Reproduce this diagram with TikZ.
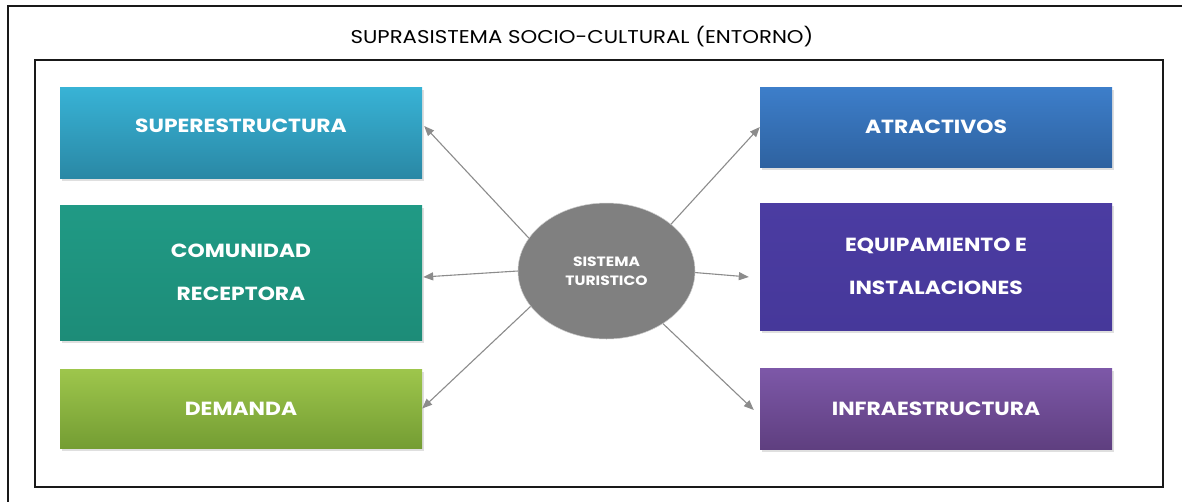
\documentclass[tikz,border=0pt]{standalone}
\usepackage{fontspec}
\setmainfont{Poppins}[FakeStretch=1.15]
\usetikzlibrary{arrows.meta,shapes.geometric,shadows,calc}
\definecolor{supT}{HTML}{38B3D6}
\definecolor{supB}{HTML}{2A88A5}
\definecolor{comT}{HTML}{209A85}
\definecolor{comB}{HTML}{1D8C78}
\definecolor{demT}{HTML}{9EC64C}
\definecolor{demB}{HTML}{749D33}
\definecolor{atrT}{HTML}{3D7ECA}
\definecolor{atrB}{HTML}{2E62A0}
\definecolor{equT}{HTML}{4B3CA2}
\definecolor{equB}{HTML}{46389A}
\definecolor{infT}{HTML}{7D58A8}
\definecolor{infB}{HTML}{5F3F80}
\definecolor{sisgray}{HTML}{808080}
\definecolor{arrowgray}{HTML}{8C8C8C}
\begin{document}
\begin{tikzpicture}[x=1pt,y=-1pt,
  box/.style={rectangle, inner sep=0pt, text=white,
    font=\fontsize{19}{43}\selectfont\bfseries, align=center,
    drop shadow={opacity=0.25, shadow xshift=1.5pt, shadow yshift=-2.5pt}},
  conn/.style={draw=arrowgray, line width=1.1pt, -{Triangle[length=10pt,width=8pt]}}]
\useasboundingbox (0,0) rectangle (1182,501);
\fill[white] (0,0) rectangle (1182,501);
% outer frame (only top and left visible)
\draw[line width=1.6pt, black!90] (8,515) -- (8,6) -- (1195,6);
\node[font=\fontsize{18.5}{22}\selectfont, text=black] (title) at (582,37) {SUPRASISTEMA SOCIO-CULTURAL (ENTORNO)};
% inner frame
\node[draw=black!90, line width=1.2pt, rectangle, minimum width=1128pt, minimum height=427pt, inner sep=0pt] (frame) at (599,273.5) {};
% left boxes
\node[box, top color=supT, bottom color=supB, minimum width=362pt, minimum height=91pt, text height=13pt, text depth=13pt] (sup) at (241,132.5) {SUPERESTRUCTURA};
\node[box, top color=comT, bottom color=comB, minimum width=362pt, minimum height=135pt] (com) at (241,272.5) {COMUNIDAD\\RECEPTORA};
\node[box, top color=demT, bottom color=demB, minimum width=362pt, minimum height=79pt] (dem) at (241,408.5) {DEMANDA};
% right boxes
\node[box, top color=atrT, bottom color=atrB, minimum width=352pt, minimum height=80pt] (atr) at (936,127) {ATRACTIVOS};
\node[box, top color=equT, bottom color=equB, minimum width=352pt, minimum height=127pt] (equ) at (936,266.5) {EQUIPAMIENTO E\\INSTALACIONES};
\node[box, top color=infT, bottom color=infB, minimum width=352pt, minimum height=81pt] (inf) at (936,408.5) {INFRAESTRUCTURA};
% centre
\node[ellipse, fill=sisgray, draw=black!20, line width=0.5pt, minimum width=177pt, minimum height=136pt, inner sep=0pt, text=white,
  font=\fontsize{13.5}{19}\selectfont\bfseries, align=center] (sis) at (606.5,271) {SISTEMA\\TURISTICO};
% connectors
\draw[conn] (sis.157) -- ($(sup.east)+(2,-6.5)$);
\draw[conn] (sis.180) -- ($(com.east)+(1,4.5)$);
\draw[conn] (sis.205) -- (dem.east);
\draw[conn] (sis.36) -- (atr.west);
\draw[conn] (sis.-1) -- ($(equ.west)+(-11,10.5)$);
\draw[conn] (sis.-43) -- ($(inf.west)+(-6,1.5)$);
\end{tikzpicture}
\end{document}
